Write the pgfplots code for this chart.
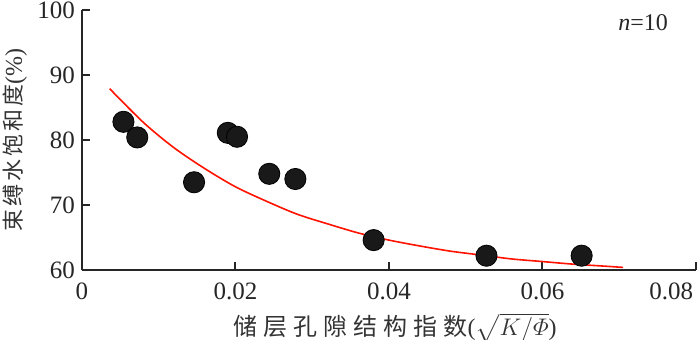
\documentclass[border=0pt]{standalone}
\usepackage{amsmath}
\usepackage{fontspec}
\setmainfont{Liberation Serif}
\newfontfamily\cjk{Noto Sans CJK SC}
\usepackage{pgfplots}
\pgfplotsset{compat=1.18}

% red fit curve
\pgfplotstableread{
x y
0.0036 87.9
0.0080 82.7
0.0120 78.8
0.0160 75.6
0.0200 72.8
0.0240 70.6
0.0280 68.6
0.0320 67.1
0.0360 65.7
0.0400 64.6
0.0440 63.7
0.0480 62.9
0.0520 62.3
0.0560 61.7
0.0600 61.3
0.0640 60.9
0.0680 60.6
0.0705 60.4
}\fitdata

\begin{document}
\begin{tikzpicture}
\begin{axis}[
    scale only axis,
    width=307pt, height=130pt,
    xmin=0, xmax=0.08, ymin=60, ymax=100,
    axis x line=bottom, axis y line=left,
    axis line style={-, line width=1pt, black!85},
    tick style={line width=1pt, black!85},
    tick align=inside,
    major tick length=4pt,
    scaled x ticks=false,
    xtick={0,0.02,0.04,0.06,0.08},
    xticklabels={0,0.02,0.04,0.06,{\makebox[0pt][r]{0.08}\kern3pt}},
    ytick={60,70,80,90,100},
    ticklabel style={font=\fontsize{12.5}{14}\selectfont, black!85},
    yticklabel style={inner ysep=0pt},
    /pgf/number format/assume math mode=true,
    xticklabel style={yshift=-3pt},
    every axis y label/.style={at={(axis description cs:-0.109,0.5)}, rotate=90, anchor=center},
    every axis x label/.style={at={(axis description cs:0.51,-0.223)}, anchor=center},
    ylabel={\fontsize{11}{13}\selectfont\color{black!80}{\cjk 束\kern1.5pt 缚\kern1.5pt 水\kern1.5pt 饱\kern1.5pt 和\kern1.5pt 度}\fontsize{12}{14}\selectfont(\%)},
    xlabel={\fontsize{12}{14}\selectfont\color{black!80}{\cjk 储\kern3pt 层\kern3pt 孔\kern3pt 隙\kern3pt 结\kern3pt 构\kern3pt 指\kern3pt 数}($\sqrt{K/\varPhi}$)},
    clip=false,
]
\addplot[red!85!orange, line width=0.8pt, smooth] table {\fitdata};
\addplot[only marks, mark=*, mark size=5.3pt, mark options={fill=black!90, draw=none}] coordinates {
    (0.0054,82.8) (0.0072,80.4) (0.0146,73.5) (0.0190,81.1) (0.0202,80.5)
    (0.0244,74.8) (0.0278,74.0) (0.0380,64.6) (0.0527,62.2) (0.0651,62.2)
};
\node[font=\fontsize{12}{14}\selectfont, black!85] at (axis cs:0.0731,98) {\textit{n}=10};
\end{axis}
\pgfresetboundingbox
\path (-41pt,-34.5pt) rectangle (309pt,135pt);
\end{tikzpicture}
\end{document}
